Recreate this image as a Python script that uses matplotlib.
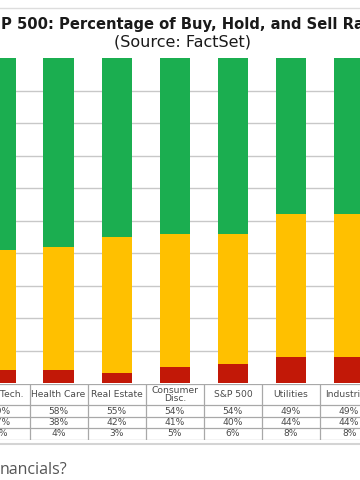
import matplotlib
matplotlib.use('Agg')
import matplotlib.pyplot as plt

# Data (percent of ratings)
sectors = ['Info. Tech.', 'Health Care', 'Real Estate', 'Consumer\nDisc.',
           'S&P 500', 'Utilities', 'Industrials']
buy = [59, 58, 55, 54, 54, 49, 49]
hold = [37, 38, 42, 41, 40, 44, 44]
sell = [4, 4, 3, 5, 6, 8, 8]

GREEN = '#1BAE50'
YELLOW = '#FFC000'
RED = '#C21807'
GRID = '#C8C8C8'

W, H = 360, 480
fig = plt.figure(figsize=(W / 100, H / 100), dpi=100)

# pixel layout of the cropped chart
pitch = 58.1      # px between bar centres
x_first = 0.5     # px centre of first bar
top_px, base_px = 58, 383
xlim = ((0 - x_first) / pitch, (W - x_first) / pitch)

def fy(py):
    return 1 - py / H

# --- bars
ax = fig.add_axes([0, fy(base_px), 1, (base_px - top_px) / H])
x = list(range(len(sectors)))
for g in range(10, 100, 10):
    ax.axhline(g, color=GRID, lw=1, zorder=0)
ax.bar(x, sell, width=0.52, color=RED, zorder=2)
ax.bar(x, hold, width=0.52, bottom=sell, color=YELLOW, zorder=2)
ax.bar(x, buy, width=0.52, bottom=[s + h for s, h in zip(sell, hold)],
       color=GREEN, zorder=2)
ax.set_xlim(*xlim)
ax.set_ylim(0, 100)
ax.axis('off')

# --- data table under the bars
tab_top, tab_bot = 384, 440
tx = fig.add_axes([0, fy(tab_bot), 1, (tab_bot - tab_top) / H])
tx.set_xlim(*xlim)
tx.set_ylim(tab_bot - tab_top, 0)
tx.axis('off')
row_lines = [0, 21, 33, 44, 56]
for r in row_lines:
    tx.axhline(r, color='#A8A8A8', lw=0.9)
for i in range(-1, len(sectors)):
    tx.plot([i + 0.5, i + 0.5], [0, 56], color='#A8A8A8', lw=0.9)
tcol = '#4A4A4A'
for i, name in enumerate(sectors):
    tx.text(i, 10.5, name, ha='center', va='center', fontsize=6.6,
            color=tcol, linespacing=0.95)
    for vals, (r0, r1) in zip([buy, hold, sell],
                              [(21, 33), (33, 44), (44, 56)]):
        tx.text(i, (r0 + r1) / 2, f'{vals[i]}%', ha='center', va='center',
                fontsize=6.6, color=tcol)

# --- titles (cropped screenshot)
fig.text(1 / W, fy(24), 'P 500: Percentage of Buy, Hold, and Sell Ra',
         ha='left', va='center', fontsize=10.6, fontweight='bold',
         color='#1A1A1A')
fig.text(183 / W, fy(42), '(Source: FactSet)', ha='center', va='center',
         fontsize=11.5, color='#1A1A1A')

# page separators and trailing page text
fig.add_artist(plt.Line2D([0, 1], [fy(8), fy(8)], color='#DDDDDD', lw=1))
fig.add_artist(plt.Line2D([0, 1], [fy(443.5), fy(443.5)], color='#D4D4D4', lw=1.5))
fig.text(0, fy(474), 'nancials?', ha='left', va='baseline', fontsize=11.5,
         family='Open Sans', color='#555555')

fig.savefig('out.png', dpi=100)
